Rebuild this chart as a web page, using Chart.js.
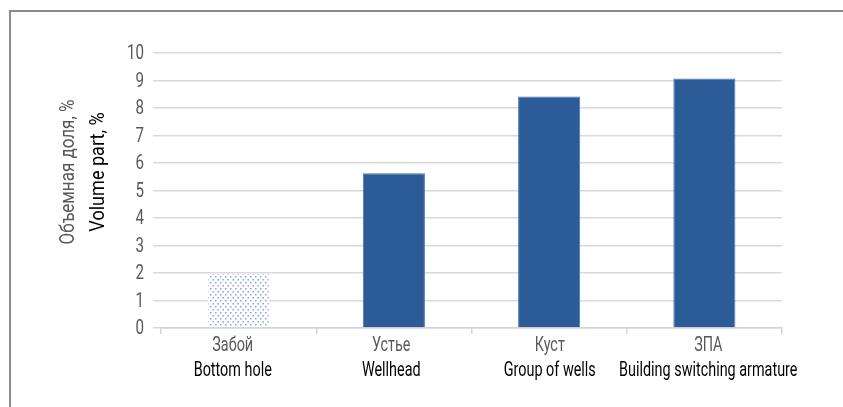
<!DOCTYPE html>
<html>
<head>
<meta charset="utf-8">
<script src="https://cdn.jsdelivr.net/npm/chart.js@4/dist/chart.umd.min.js"></script>
<style>
  html, body { margin: 0; padding: 0; background: #fff; }
  #wrap { position: relative; width: 843px; height: 407px; overflow: hidden; }
  #frame { position: absolute; left: 9px; top: 10px; width: 900px; height: 500px;
           border-left: 2px solid #8c8c84; border-top: 2px solid #8c8c84; }
  canvas { position: absolute; left: 0; top: 0; }
</style>
</head>
<body>
<div id="wrap">
  <div id="frame"></div>
  <canvas id="c" width="843" height="407"></canvas>
</div>
<script>
// Sampling points along the gathering system
const categoriesRu = ['Забой', 'Устье', 'Куст', 'ЗПА'];
const categoriesEn = ['Bottom hole', 'Wellhead', 'Group of wells', 'Building switching armature'];
// Volume fraction, %
const volumeShare = [2.0, 5.63, 8.42, 9.07];
const yTicks = [0, 1, 2, 3, 4, 5, 6, 7, 8, 9, 10];
const axisTitleRu = 'Объемная доля, %';
const axisTitleEn = 'Volume part, %';

const FONT = 'Roboto, "DejaVu Sans Condensed", sans-serif';
const BLUE = '#2b5c97';
const GREY_TEXT = '#595959';
const LABEL_SPREAD = 1.021;   // category captions sit slightly wider apart than the bars

// Dotted fill for the bottom-hole bar
function dotPattern() {
  const t = document.createElement('canvas');
  t.width = 5; t.height = 6;
  const g = t.getContext('2d');
  g.fillStyle = '#ffffff';
  g.fillRect(0, 0, 5, 6);
  g.fillStyle = 'rgba(90,135,210,0.75)';
  g.fillRect(0, 0, 1.5, 1.5);
  g.fillRect(2.5, 3, 1.5, 1.5);
  return document.getElementById('c').getContext('2d').createPattern(t, 'repeat');
}
const pattern = dotPattern();

// Condensed text: squeeze horizontally around the anchor point
function narrowText(ctx, text, x, y, size, color, align, squeeze) {
  ctx.save();
  ctx.translate(x, y);
  ctx.scale(squeeze, 1);
  ctx.font = size + 'px ' + FONT;
  ctx.fillStyle = color;
  ctx.textAlign = align;
  ctx.textBaseline = 'middle';
  ctx.fillText(text, 0, 0);
  ctx.restore();
}

const labelsPlugin = {
  id: 'labels2',
  afterDraw(chart) {
    const ctx = chart.ctx;
    const xs = chart.scales.x;
    const ys = chart.scales.y;
    const area = chart.chartArea;

    // value axis labels
    yTicks.forEach(v => {
      narrowText(ctx, String(v), area.left - 17, ys.getPixelForValue(v) + 1, 21, GREY_TEXT, 'right', 0.72);
    });

    // two-line category labels
    const mid = (area.left + area.right) / 2;
    categoriesRu.forEach((ru, i) => {
      const x = mid + (xs.getPixelForValue(i) - mid) * LABEL_SPREAD - 1;
      narrowText(ctx, ru, x, area.bottom + 18, 20, GREY_TEXT, 'center', 0.72);
      narrowText(ctx, categoriesEn[i], x, area.bottom + 43, 20, '#000000', 'center', 0.72);
    });

    // two-line rotated axis title
    ctx.save();
    ctx.translate(69, 172);
    ctx.rotate(-Math.PI / 2);
    narrowText(ctx, axisTitleRu, 0, 0, 20, GREY_TEXT, 'center', 0.85);
    narrowText(ctx, axisTitleEn, 0, 30, 21, '#000000', 'center', 0.86);
    ctx.restore();
  }
};

new Chart(document.getElementById('c'), {
  type: 'bar',
  data: {
    labels: categoriesEn,
    datasets: [{
      data: volumeShare,
      backgroundColor: volumeShare.map((v, i) => i === 0 ? pattern : BLUE),
      borderColor: volumeShare.map((v, i) => i === 0 ? 'rgba(0,0,0,0)' : '#4a78b0'),
      borderWidth: 1,
      barPercentage: 0.4,
      categoryPercentage: 1.0
    }]
  },
  options: {
    responsive: false,
    animation: false,
    layout: { padding: { left: 0, right: 61, top: 53, bottom: 0 } },
    plugins: { legend: { display: false }, tooltip: { enabled: false } },
    scales: {
      x: {
        offset: true,
        grid: { offset: true, drawOnChartArea: false, drawTicks: true, tickLength: 6, color: '#d4d4d4', lineWidth: 1.5 },
        border: { display: true, color: '#d4d4d4', width: 1.5 },
        ticks: { display: false },
        afterFit(s) { s.height = 79; }
      },
      y: {
        min: 0, max: 10,
        grid: { color: '#d9d9d9', lineWidth: 1.5, tickLength: 8 },
        border: { display: false },
        ticks: { stepSize: 1, display: false },
        afterFit(s) { s.width = 161; }
      }
    }
  },
  plugins: [labelsPlugin]
});
</script>
</body>
</html>
